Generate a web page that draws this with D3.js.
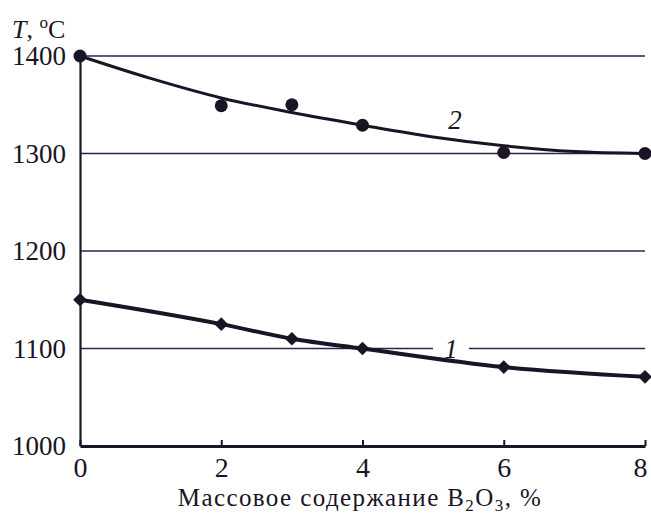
<!DOCTYPE html>
<html><head><meta charset="utf-8">
<script src="https://cdn.jsdelivr.net/npm/d3@7/dist/d3.min.js"></script>
<style>body{margin:0;background:#fff}svg{display:block}
svg text{font-family:"Liberation Serif","Times New Roman",serif !important;}</style>
</head><body>
<script>
const xValues = [0, 2, 3, 4, 6, 8];
const series1 = [1150, 1125, 1110, 1100, 1081, 1071];
const series2 = [1400, 1349, 1350, 1329, 1301, 1300];
const trendX = [0, 1, 2, 3, 4, 5, 6, 7, 8];
const trend2 = [1400, 1377, 1357, 1342, 1329, 1317, 1308, 1302, 1300];
const xTicks = [0, 2, 4, 6, 8];
const yTicks = [1000, 1100, 1200, 1300, 1400];
const gridValues = [1100, 1200, 1300, 1400];

const W = 651, H = 514;
const m = {left: 80, right: 6, top: 56, bottom: 68};
const svg = d3.select("body").append("svg").attr("width", W).attr("height", H);
const x = d3.scaleLinear().domain([0, 8]).range([m.left, W - m.right]);
const y = d3.scaleLinear().domain([1000, 1400]).range([H - m.bottom, m.top]);
const ink = "#1a1426";

gridValues.forEach(v => {
  const segs = v === 1100 ? [[x(0), 433], [469, x(8)]] : [[x(0), x(8)]];
  segs.forEach(s => svg.append("line").attr("x1", s[0]).attr("x2", s[1]).attr("y1", y(v)).attr("y2", y(v))
      .attr("stroke", "#2c2350").attr("stroke-width", 1.3));
});

const xAxis = d3.axisBottom(x).tickValues(xTicks).tickSize(-6).tickPadding(11).tickSizeOuter(0);
const gx = svg.append("g").attr("transform", `translate(0,${y(1000)})`).call(xAxis);
gx.select(".domain").attr("stroke", ink).attr("stroke-width", 3);
gx.selectAll(".tick line").attr("stroke", ink).attr("stroke-width", 2);
gx.selectAll(".tick text").attr("font-size", 28).attr("fill", ink);
gx.selectAll(".tick text").filter(d => d === 8).attr("text-anchor", "end").attr("dx", 2);

const yAxis = d3.axisLeft(y).tickValues(yTicks).tickSize(0).tickPadding(14).tickFormat(d3.format("d"));
const gy = svg.append("g").attr("transform", `translate(${x(0)},0)`).call(yAxis);
gy.select(".domain").attr("stroke", ink).attr("stroke-width", 2.2);
gy.selectAll(".tick text").attr("font-size", 27).attr("fill", ink);

const yt = svg.append("text").attr("x", 12).attr("y", 38).attr("font-size", 26).attr("fill", ink);
yt.append("tspan").attr("font-style", "italic").text("T");
yt.append("tspan").text(", ");
yt.append("tspan").attr("font-size", 17).attr("dy", -10).text("o");
yt.append("tspan").attr("dy", 10).text("C");

const xt = svg.append("text").attr("x", 360).attr("y", 506).attr("text-anchor", "middle")
  .attr("font-size", 25).attr("letter-spacing", 1.4).attr("fill", ink);
xt.append("tspan").text("Массовое содержание B");
xt.append("tspan").attr("font-size", 17).attr("dy", 5).text("2");
xt.append("tspan").attr("dy", -5).text("O");
xt.append("tspan").attr("font-size", 17).attr("dy", 5).text("3");
xt.append("tspan").attr("dy", -5).text(", %");

const line = d3.line().curve(d3.curveMonotoneX);
svg.append("path")
  .attr("d", line(trendX.map((d, i) => [x(d), y(trend2[i])])))
  .attr("fill", "none").attr("stroke", ink).attr("stroke-width", 3);
svg.selectAll("circle.s2").data(xValues).enter().append("circle")
  .attr("cx", d => x(d)).attr("cy", (d, i) => y(series2[i])).attr("r", 6.5).attr("fill", ink);

svg.append("path")
  .attr("d", line(xValues.map((d, i) => [x(d), y(series1[i])])))
  .attr("fill", "none").attr("stroke", ink).attr("stroke-width", 4);
const sym = d3.symbol().type(d3.symbolDiamond2).size(120);
svg.selectAll("path.s1").data(xValues).enter().append("path")
  .attr("transform", (d, i) => `translate(${x(d)},${y(series1[i])})`)
  .attr("d", sym).attr("fill", ink);

svg.append("text").attr("x", 451).attr("y", y(1100) + 9).attr("text-anchor", "middle")
  .attr("font-style", "italic").attr("font-size", 27).attr("fill", ink).text("1");
svg.append("text").attr("x", 455).attr("y", 129).attr("text-anchor", "middle")
  .attr("font-style", "italic").attr("font-size", 27).attr("fill", ink).text("2");
</script>
</body></html>
